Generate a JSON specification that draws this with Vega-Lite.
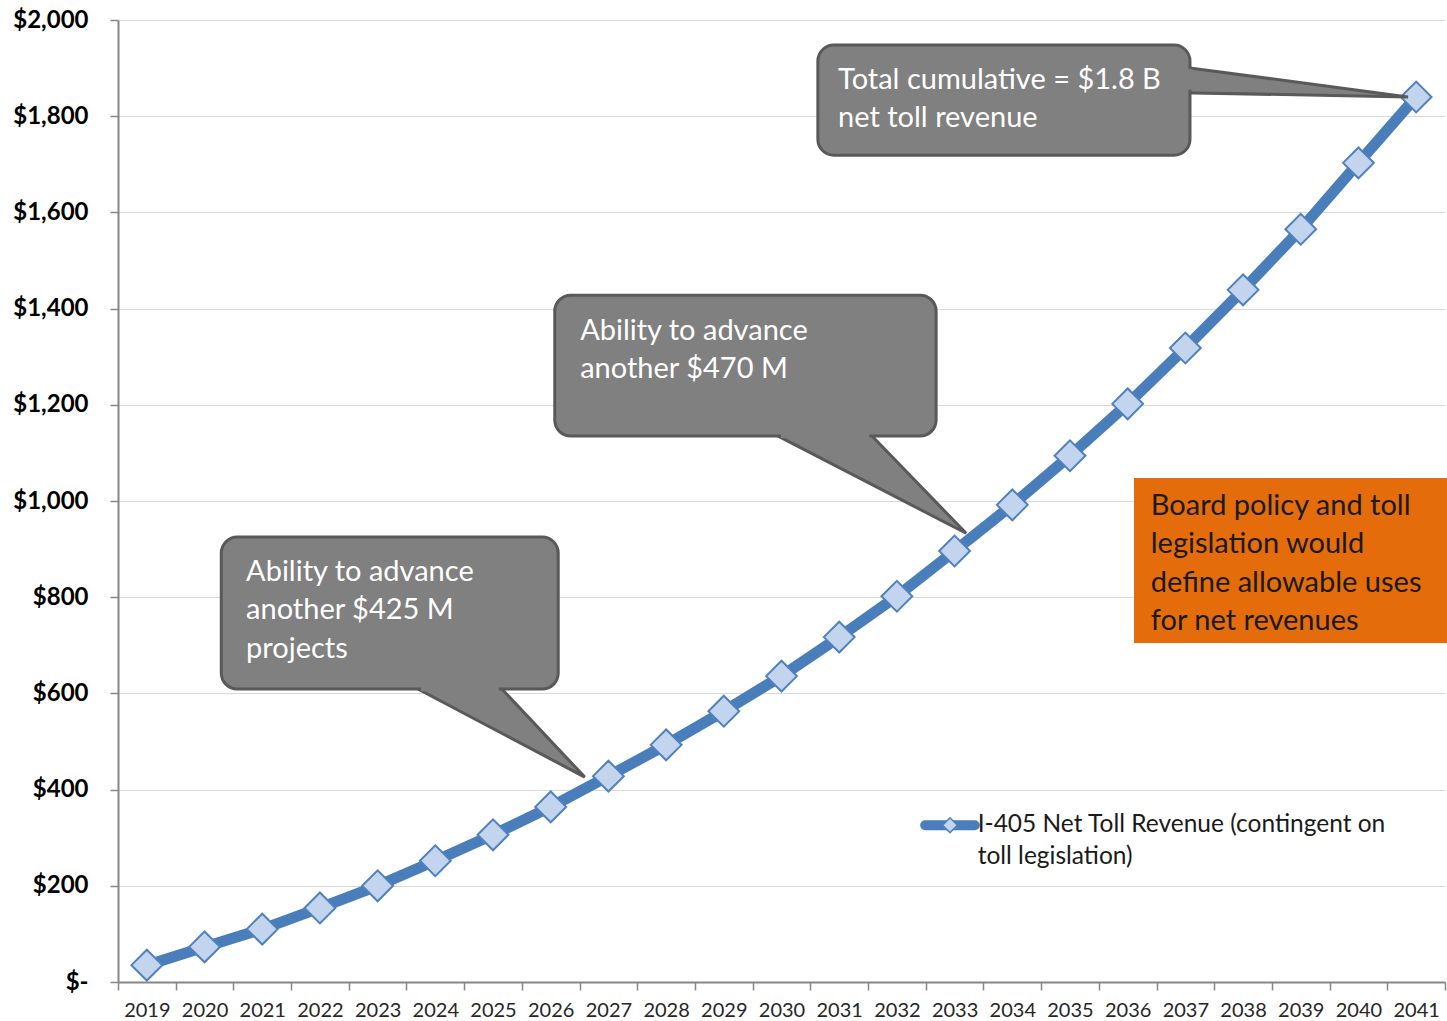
{
  "$schema": "https://vega.github.io/schema/vega-lite/v6.json",
  "autosize": "none",
  "width": 1327,
  "height": 962,
  "padding": {"left": 118, "top": 20, "right": 2, "bottom": 39},
  "config": {"view": {"stroke": null}, "font": "Lato"},
  "datasets": {
    "revenue": [
      {"year": 2019, "value": 35}, {"year": 2020, "value": 73}, {"year": 2021, "value": 110},
      {"year": 2022, "value": 154}, {"year": 2023, "value": 200}, {"year": 2024, "value": 252},
      {"year": 2025, "value": 306}, {"year": 2026, "value": 364}, {"year": 2027, "value": 428},
      {"year": 2028, "value": 493}, {"year": 2029, "value": 563}, {"year": 2030, "value": 636},
      {"year": 2031, "value": 717}, {"year": 2032, "value": 802}, {"year": 2033, "value": 896},
      {"year": 2034, "value": 992}, {"year": 2035, "value": 1094}, {"year": 2036, "value": 1202},
      {"year": 2037, "value": 1318}, {"year": 2038, "value": 1439}, {"year": 2039, "value": 1565},
      {"year": 2040, "value": 1703}, {"year": 2041, "value": 1840}
    ],
    "tails": [
      {"id": "c1", "ord": 1, "x": 2036.91, "y": 1903},
      {"id": "c1", "ord": 2, "x": 2040.86, "y": 1840},
      {"id": "c1", "ord": 3, "x": 2036.91, "y": 1849},
      {"id": "c2", "ord": 1, "x": 2029.60, "y": 1156},
      {"id": "c2", "ord": 2, "x": 2033.20, "y": 933},
      {"id": "c2", "ord": 3, "x": 2031.40, "y": 1156},
      {"id": "c3", "ord": 1, "x": 2023.37, "y": 630},
      {"id": "c3", "ord": 2, "x": 2026.59, "y": 426},
      {"id": "c3", "ord": 3, "x": 2024.99, "y": 630}
    ],
    "boxes": [
      {"id": "c1", "x": 2030.63, "x2": 2037.08, "y": 1719, "y2": 1948},
      {"id": "c2", "x": 2026.07, "x2": 2032.68, "y": 1135, "y2": 1428},
      {"id": "c3", "x": 2020.29, "x2": 2026.13, "y": 609, "y2": 925}
    ],
    "joins": [
      {"id": "c1", "x": 2037.08, "x2": 2037.08, "y": 1898, "y2": 1855},
      {"id": "c2", "x": 2029.99, "x2": 2031.52, "y": 1135, "y2": 1135},
      {"id": "c3", "x": 2023.75, "x2": 2025.10, "y": 609, "y2": 609}
    ],
    "calloutText": [
      {"x": 2030.98, "y": 1875, "text": "Total cumulative = $1.8 B"},
      {"x": 2030.98, "y": 1796, "text": "net toll revenue"},
      {"x": 2026.51, "y": 1353, "text": "Ability to advance"},
      {"x": 2026.51, "y": 1274, "text": "another $470 M"},
      {"x": 2020.72, "y": 852, "text": "Ability to advance"},
      {"x": 2020.72, "y": 773, "text": "another $425 M"},
      {"x": 2020.72, "y": 692, "text": "projects"}
    ],
    "noteBox": [{"x": 2036.11, "x2": 2041.55, "y": 705, "y2": 1048}],
    "noteText": [
      {"x": 2036.40, "y": 990, "text": "Board policy and toll"},
      {"x": 2036.40, "y": 911, "text": "legislation would"},
      {"x": 2036.40, "y": 830, "text": "define allowable uses"},
      {"x": 2036.40, "y": 751, "text": "for net revenues"}
    ],
    "legendLine": [{"x": 2032.49, "x2": 2033.35, "y": 326}],
    "legendMark": [{"x": 2032.92, "y": 326}],
    "legendText": [
      {"x": 2033.40, "y": 326, "text": "I-405 Net Toll Revenue (contingent on"},
      {"x": 2033.40, "y": 260, "text": "toll legislation)"}
    ]
  },
  "layer": [
    {
      "data": {"name": "revenue"},
      "mark": {"type": "line", "color": "#4A7EBB", "strokeWidth": 11, "strokeJoin": "round"},
      "encoding": {
        "x": {
          "field": "year", "type": "quantitative", "title": null,
          "scale": {"domain": [2018.5, 2041.5], "nice": false, "zero": false},
          "axis": {
            "values": [2018.5, 2019.5, 2020.5, 2021.5, 2022.5, 2023.5, 2024.5, 2025.5, 2026.5, 2027.5, 2028.5, 2029.5, 2030.5, 2031.5, 2032.5, 2033.5, 2034.5, 2035.5, 2036.5, 2037.5, 2038.5, 2039.5, 2040.5, 2041.5],
            "labelExpr": "datum.value < 2019 ? '' : format(datum.value - 0.5, 'd')",
            "labelOffset": -28.85,
            "labelOverlap": false,
            "labelFlush": false,
            "labelFontSize": 20,
            "labelColor": "#262626",
            "labelPadding": 10,
            "tickSize": 8,
            "tickColor": "#868686",
            "tickWidth": 1.5,
            "domainColor": "#868686",
            "domainWidth": 2,
            "grid": false
          }
        },
        "y": {
          "field": "value", "type": "quantitative", "title": null,
          "scale": {"domain": [0, 2000], "nice": false},
          "axis": {
            "values": [0, 200, 400, 600, 800, 1000, 1200, 1400, 1600, 1800, 2000],
            "labelExpr": "datum.value == 0 ? '$-\u2007' : '$' + format(datum.value, ',')",
            "labelFontSize": 24,
            "labelFontWeight": "bold",
            "labelColor": "#000000",
            "labelPadding": 22,
            "tickSize": 8,
            "tickColor": "#868686",
            "tickWidth": 1.5,
            "domainColor": "#868686",
            "domainWidth": 2,
            "grid": true,
            "gridColor": "#D9D9D9",
            "gridWidth": 1
          }
        }
      }
    },
    {
      "data": {"name": "revenue"},
      "mark": {"type": "point", "shape": "diamond", "filled": true, "fill": "#C3D5EE", "stroke": "#4F81BD", "strokeWidth": 2, "size": 950, "opacity": 1},
      "encoding": {
        "x": {"field": "year", "type": "quantitative", "title": null},
        "y": {"field": "value", "type": "quantitative", "title": null}
      }
    },
    {
      "data": {"name": "tails"},
      "mark": {"type": "line", "fill": "#808080", "stroke": "#595959", "strokeWidth": 3, "strokeJoin": "miter"},
      "encoding": {
        "x": {"field": "x", "type": "quantitative", "title": null},
        "y": {"field": "y", "type": "quantitative", "title": null},
        "detail": {"field": "id"},
        "order": {"field": "ord"}
      }
    },
    {
      "data": {"name": "boxes"},
      "mark": {"type": "rect", "fill": "#808080", "stroke": "#595959", "strokeWidth": 3, "cornerRadius": 16},
      "encoding": {
        "x": {"field": "x", "type": "quantitative", "title": null},
        "x2": {"field": "x2"},
        "y": {"field": "y", "type": "quantitative", "title": null},
        "y2": {"field": "y2"}
      }
    },
    {
      "data": {"name": "joins"},
      "mark": {"type": "rule", "stroke": "#808080", "strokeWidth": 4.5},
      "encoding": {
        "x": {"field": "x", "type": "quantitative", "title": null},
        "x2": {"field": "x2"},
        "y": {"field": "y", "type": "quantitative", "title": null},
        "y2": {"field": "y2"}
      }
    },
    {
      "data": {"name": "calloutText"},
      "mark": {"type": "text", "align": "left", "baseline": "middle", "fontSize": 29, "color": "#FFFFFF"},
      "encoding": {
        "x": {"field": "x", "type": "quantitative", "title": null},
        "y": {"field": "y", "type": "quantitative", "title": null},
        "text": {"field": "text"}
      }
    },
    {
      "data": {"name": "noteBox"},
      "mark": {"type": "rect", "fill": "#E46C0A"},
      "encoding": {
        "x": {"field": "x", "type": "quantitative", "title": null},
        "x2": {"field": "x2"},
        "y": {"field": "y", "type": "quantitative", "title": null},
        "y2": {"field": "y2"}
      }
    },
    {
      "data": {"name": "noteText"},
      "mark": {"type": "text", "align": "left", "baseline": "middle", "fontSize": 29, "color": "#1A1A1A"},
      "encoding": {
        "x": {"field": "x", "type": "quantitative", "title": null},
        "y": {"field": "y", "type": "quantitative", "title": null},
        "text": {"field": "text"}
      }
    },
    {
      "data": {"name": "legendLine"},
      "mark": {"type": "rule", "stroke": "#4A7EBB", "strokeWidth": 10, "strokeCap": "round"},
      "encoding": {
        "x": {"field": "x", "type": "quantitative", "title": null},
        "x2": {"field": "x2"},
        "y": {"field": "y", "type": "quantitative", "title": null}
      }
    },
    {
      "data": {"name": "legendMark"},
      "mark": {"type": "point", "shape": "diamond", "filled": true, "fill": "#C3D5EE", "stroke": "#4F81BD", "strokeWidth": 1.5, "size": 220, "opacity": 1},
      "encoding": {
        "x": {"field": "x", "type": "quantitative", "title": null},
        "y": {"field": "y", "type": "quantitative", "title": null}
      }
    },
    {
      "data": {"name": "legendText"},
      "mark": {"type": "text", "align": "left", "baseline": "middle", "fontSize": 24.5, "color": "#1A1A1A"},
      "encoding": {
        "x": {"field": "x", "type": "quantitative", "title": null},
        "y": {"field": "y", "type": "quantitative", "title": null},
        "text": {"field": "text"}
      }
    }
  ]
}
